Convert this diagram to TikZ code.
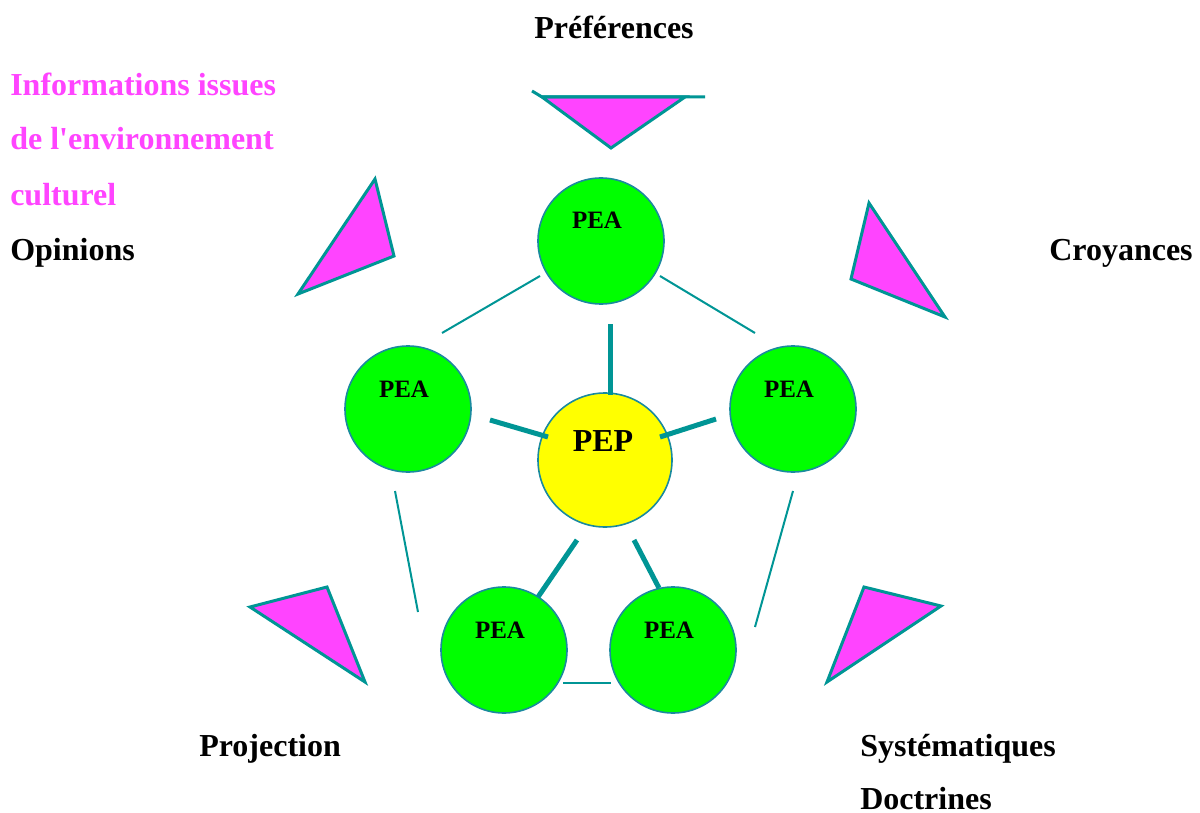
\documentclass[tikz,border=0pt]{standalone}
\usepackage{fontspec}
\setmainfont{Liberation Serif}
\definecolor{tealline}{HTML}{009595}
\definecolor{rimblue}{HTML}{1A8A9E}
\definecolor{peagreen}{HTML}{00FF00}
\definecolor{pepyellow}{HTML}{FFFF00}
\definecolor{wedge}{HTML}{FF44FF}
\begin{document}
\begin{tikzpicture}[x=0.75pt,y=-0.75pt,
  pea/.style={circle,draw=rimblue,line width=1.2pt,fill=peagreen,minimum size=94.5pt,inner sep=0pt},
  pep/.style={circle,draw=rimblue,line width=1.2pt,fill=pepyellow,minimum size=100.5pt,inner sep=0pt},
  tag/.style={font=\bfseries\fontsize{18.75}{20}\selectfont},
  bigtag/.style={font=\bfseries\fontsize{24}{26}\selectfont},
  caption/.style={font=\bfseries\fontsize{24}{26}\selectfont,anchor=base west,inner sep=0pt},
  thin/.style={draw=tealline,line width=1.5pt},
  thick/.style={draw=tealline,line width=3.75pt},
  wedgeshape/.style={draw=tealline,fill=wedge,line width=2.25pt,line join=miter}]
\useasboundingbox (0,0) rectangle (1200,813);

% satellite and central circles
\node[pea] (top) at (601,241) {};
\node[pea] (left) at (408,409) {};
\node[pea] (right) at (793,409) {};
\node[pea] (bl) at (504,650) {};
\node[pea] (br) at (673,650) {};
\node[pep] (pep) at (605,460) {};

\node[tag] (toptxt) at ([xshift=-3pt,yshift=15.75pt]top.center) {PEA};
\node[tag] (lefttxt) at ([xshift=-3pt,yshift=15pt]left.center) {PEA};
\node[tag] (righttxt) at ([xshift=-3pt,yshift=15pt]right.center) {PEA};
\node[tag] (bltxt) at ([xshift=-3pt,yshift=15pt]bl.center) {PEA};
\node[tag] (brtxt) at ([xshift=-3pt,yshift=15pt]br.center) {PEA};
\node[bigtag] (peptxt) at ([xshift=-1.5pt,yshift=14.25pt]pep.center) {PEP};

% thin links around the ring
\coordinate (a1) at (540,276); \coordinate (a2) at (442,333);
\coordinate (b1) at (660,276); \coordinate (b2) at (755,333);
\coordinate (c1) at (395,491); \coordinate (c2) at (418,612);
\coordinate (d1) at (793,491); \coordinate (d2) at (755,627);
\coordinate (e1) at (563,683); \coordinate (e2) at (611,683);
\draw[thin] (a1) -- (a2);
\draw[thin] (b1) -- (b2);
\draw[thin] (c1) -- (c2);
\draw[thin] (d1) -- (d2);
\draw[thin] (e1) -- (e2);

% thick spokes from the centre
\coordinate (s1a) at (610,324); \coordinate (s1b) at (610,395);
\coordinate (s2a) at (490,420); \coordinate (s2b) at (548,437);
\coordinate (s3a) at (660,437); \coordinate (s3b) at (716,419);
\coordinate (s4a) at (577,540); \coordinate (s4b) at (538,597);
\coordinate (s5a) at (634,540); \coordinate (s5b) at (659,588);
\draw[thick] (s1a) -- (s1b);
\draw[thick] (s2a) -- (s2b);
\draw[thick] (s3a) -- (s3b);
\draw[thick] (s4a) -- (s4b);
\draw[thick] (s5a) -- (s5b);

% magenta wedges
\draw[wedgeshape] (542,97) -- (685,97) -- (611,148) -- cycle;
\draw[tealline,line width=2.25pt] (532,91) -- (542,97) -- (705,97);
\draw[wedgeshape] (375,179) -- (394,256) -- (298,294) -- cycle;
\draw[wedgeshape] (869,203) -- (945,317) -- (851,279) -- cycle;
\draw[wedgeshape] (250,607) -- (327,587) -- (365,682) -- cycle;
\draw[wedgeshape] (864,587) -- (941,606) -- (827,682) -- cycle;

% captions
\node[caption,anchor=base] (pref) at (614,39) {Préférences};
\node[caption,text=wedge] (info1) at (10,96) {Informations issues};
\node[caption,text=wedge] (info2) at (10,150) {de l\textquotesingle environnement};
\node[caption,text=wedge] (info3) at (10,205) {culturel};
\node[caption] (opin) at (10,260) {Opinions};
\node[caption] (croy) at (1049,260) {Croyances};
\node[caption] (proj) at (199,756) {Projection};
\node[caption] (syst) at (860,756) {Systématiques};
\node[caption,text depth=0pt] (doct) at (860,809) {Doctrines};
\end{tikzpicture}
\end{document}
